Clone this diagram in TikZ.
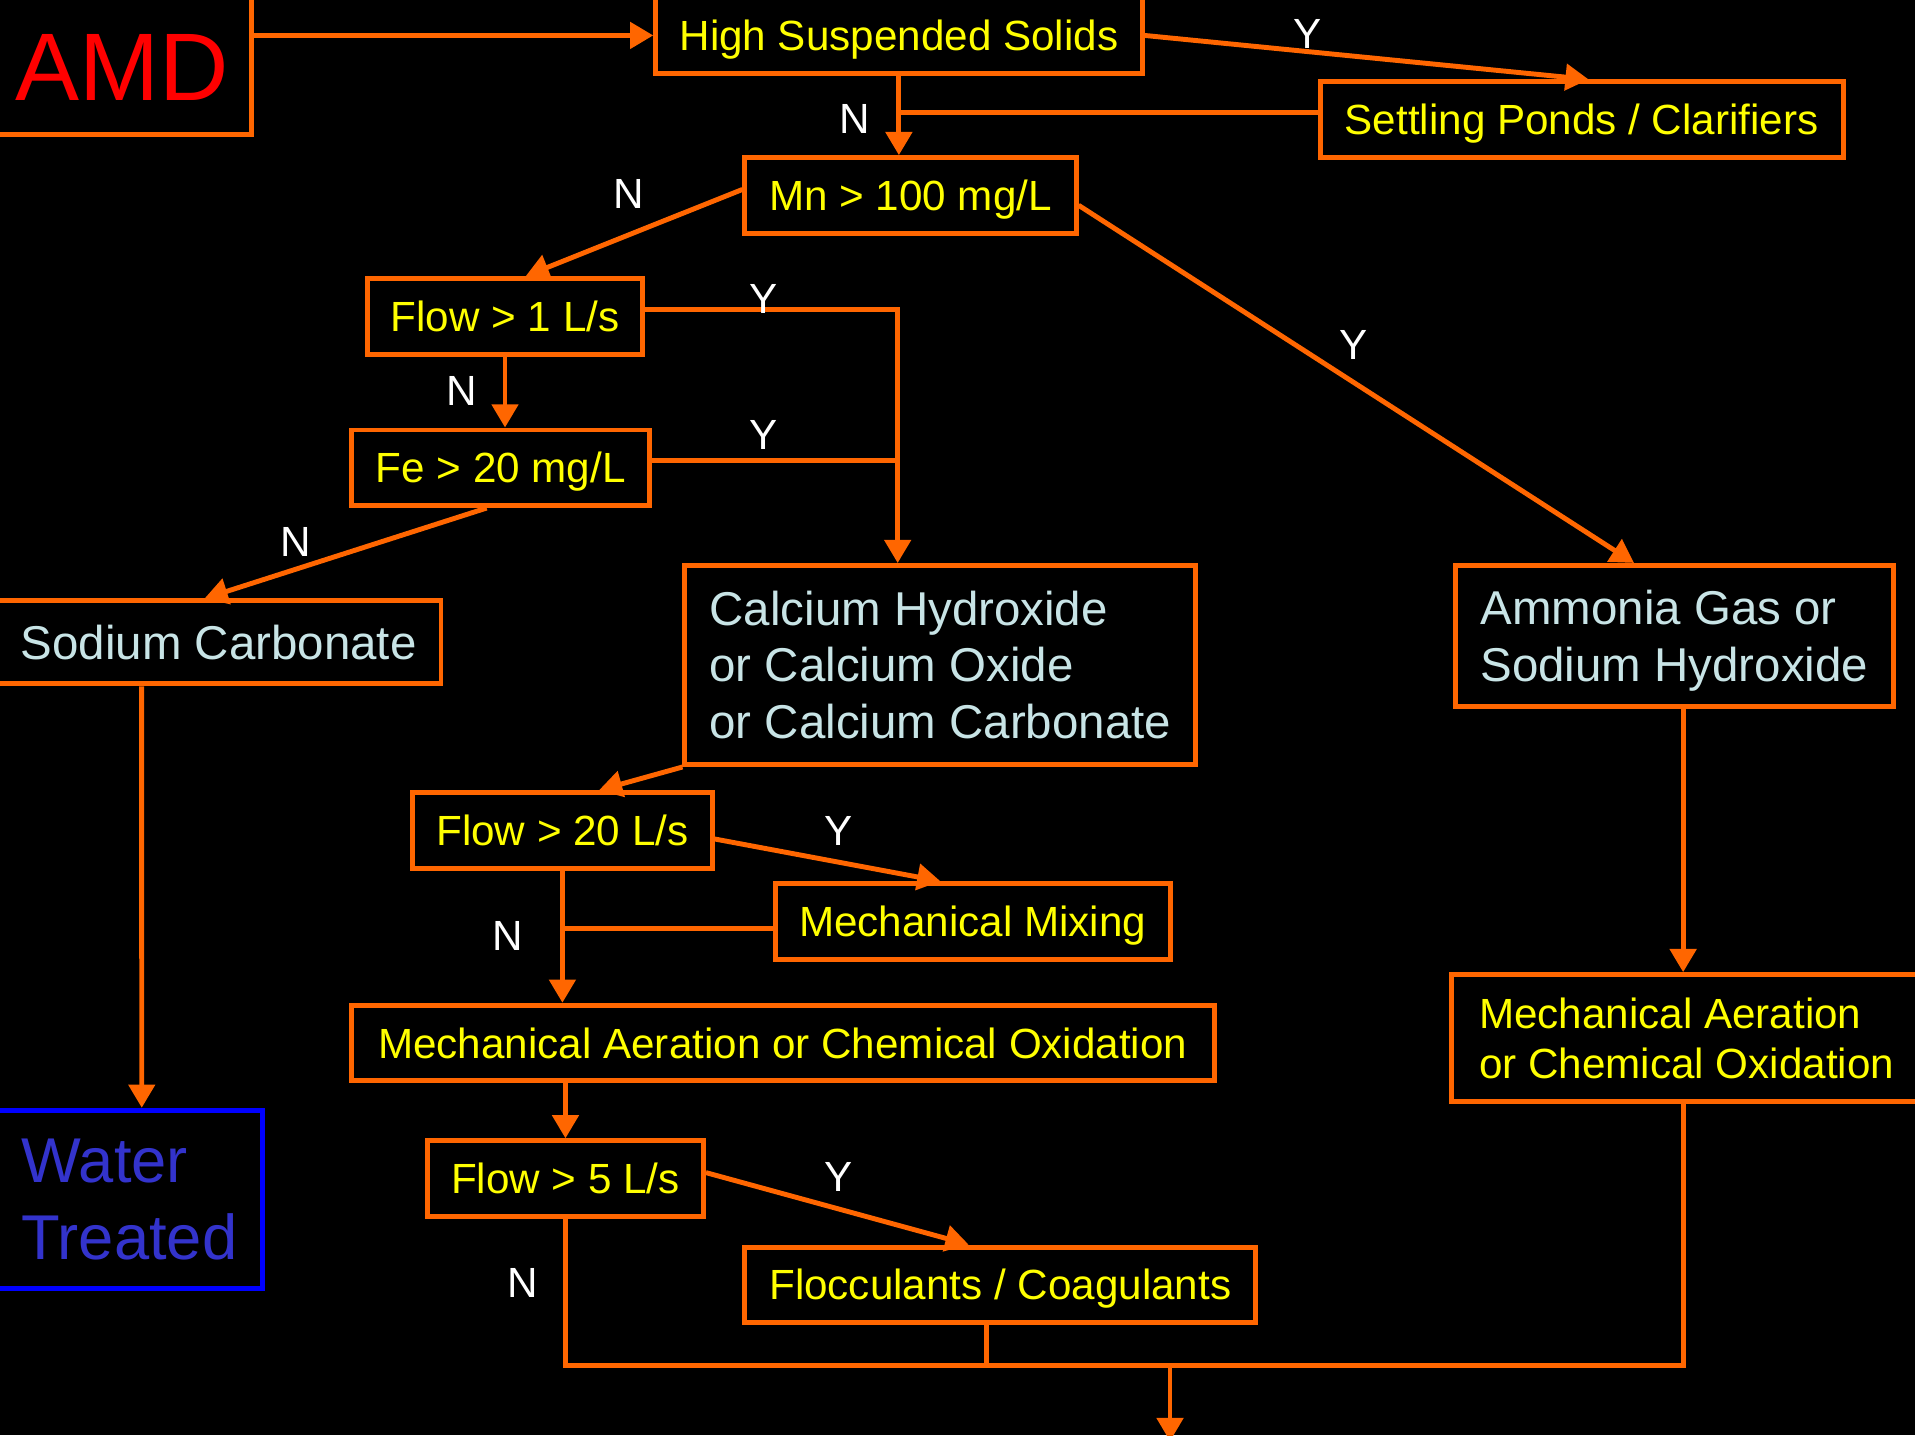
\documentclass[tikz,border=0pt]{standalone}
\usepackage{fontspec}
\setmainfont{Liberation Sans}
\usetikzlibrary{arrows.meta,calc}
\definecolor{amdorange}{RGB}{255,102,0}
\definecolor{amdyellow}{RGB}{255,255,0}
\definecolor{amdcyan}{RGB}{200,228,230}
\definecolor{amdred}{RGB}{255,0,0}
\definecolor{amdblue}{RGB}{0,0,255}
\definecolor{amdwater}{RGB}{51,51,204}

\tikzset{
  stepbox/.style={draw=amdorange, line width=1.4pt, inner sep=0pt, text=amdyellow, font=\fontsize{12}{14.2}\selectfont},
  onerow/.style={text height=8.6pt, text depth=0pt, minimum height=21.5pt},
  dosebox/.style={stepbox, text=amdcyan, font=\fontsize{13.5}{16.2}\selectfont, align=left},
  yn/.style={text=white, font=\fontsize{12}{14}\selectfont, text height=8.6pt, text depth=0pt, inner sep=0pt},
  flow/.style={draw=amdorange, line width=1.4pt},
  flowarrow/.style={flow, -{Triangle[width=7.4pt,length=6.6pt]}},
}

\begin{document}
\begin{tikzpicture}[x=0.012213cm, y=-0.012213cm]
  \path[fill=black, use as bounding box] (0,0) rectangle (1568,1175);

  % boxes
  \node[stepbox, text=amdred, font=\fontsize{27.3}{32}\selectfont, anchor=south east, text width=76pt, align=right, inner xsep=6.5pt, text height=28pt, text depth=0pt, minimum height=47pt] (amd) at (208,112) {AMD};
  \node[stepbox, onerow, minimum width=138.3pt] (hss) at (736,29) {High Suspended Solids};
  \node[stepbox, onerow, minimum width=148.7pt] (settle) at (1295,98) {Settling Ponds / Clarifiers};
  \node[stepbox, onerow, minimum width=94.2pt] (mn) at (745.5,160) {Mn > 100 mg/L};
  \node[stepbox, onerow, minimum width=78.2pt] (flowa) at (413.5,259) {Flow > 1 L/s};
  \node[stepbox, onerow, minimum width=84.8pt] (fe) at (410,383) {Fe > 20 mg/L};
  \node[dosebox, onerow, text height=9.7pt, minimum width=126.5pt, minimum height=23.6pt] (soda) at (179,526) {Sodium Carbonate};
  \node[dosebox, minimum width=145.3pt, minimum height=56.6pt] (lime) at (770,544.5) {Calcium Hydroxide\\or Calcium Oxide\\or Calcium Carbonate};
  \node[dosebox, text depth=0pt, minimum width=124.4pt, minimum height=40pt] (ammonia) at (1371,520.5) {Ammonia Gas or\\Sodium Hydroxide};
  \node[stepbox, onerow, minimum width=85.1pt] (flowb) at (460.5,680) {Flow > 20 L/s};
  \node[stepbox, onerow, minimum width=112.2pt] (mix) at (796.5,754.5) {Mechanical Mixing};
  \node[stepbox, onerow, minimum width=245.3pt] (aera) at (641,854) {Mechanical Aeration or Chemical Oxidation};
  \node[stepbox, onerow, minimum width=78.5pt] (flowc) at (463,965) {Flow > 5 L/s};
  \node[stepbox, onerow, minimum width=145.3pt] (flocc) at (819,1052) {Flocculants / Coagulants};
  \node[stepbox, align=left, minimum width=133.5pt, minimum height=36.1pt] (aerb) at (1381,850) {Mechanical Aeration\\or Chemical Oxidation};
  \node[stepbox, draw=amdblue, text=amdwater, align=left, font=\fontsize{18}{21.9}\selectfont, minimum width=75.8pt, minimum height=50.7pt] (water) at (106,982) {Water\\Treated};

  \coordinate (limein) at ($(lime.north)+(-35,0)$);
  \coordinate (sink) at (958,1118);
  \coordinate (outlet) at (958,1180);

  % connectors
  \draw[flowarrow] (amd.east |- hss.west) -- (hss.west);
  \draw[flowarrow] (hss.east) -- ([xshift=2pt]settle.north);
  \draw[flow] ([yshift=2pt]settle.west) -- ([yshift=2pt]settle.west -| hss.south);
  \draw[flowarrow] (hss.south) -- (hss.south |- mn.north);
  \draw[flowarrow] ([yshift=1.7pt]mn.west) -- ([xshift=5.9pt]flowa.north);
  \draw[flowarrow] ([yshift=-2.8pt]mn.east) -- ([xshift=-11.5pt]ammonia.north);
  \draw[flowarrow] (flowa.south) -- (flowa.south |- fe.north);
  \draw[flowarrow] ([yshift=2pt]flowa.east) -| (limein);
  \draw[flow] ([yshift=2pt]fe.east) -- ([yshift=2pt]fe.east -| limein);
  \draw[flowarrow] ([xshift=-4pt]fe.south) -- ([xshift=-4pt]soda.north);
  \draw[flowarrow] ([xshift=-21.9pt]soda.south) -- ([xshift=3.5pt]water.north);
  \draw[flowarrow] (lime.south west) -- ([xshift=10.4pt]flowb.north);
  \draw[flowarrow] ([yshift=-2.4pt]flowb.east) -- ([xshift=-9.2pt]mix.north);
  \draw[flow] ([yshift=-1.9pt]mix.west) -- ([yshift=-1.9pt]mix.west -| flowb.south);
  \draw[flowarrow] (flowb.south) -- (flowb.south |- aera.north);
  \draw[flowarrow] (flowc.north |- aera.south) -- (flowc.north);
  \draw[flowarrow] ([yshift=1.7pt]flowc.east) -- ([xshift=-9pt]flocc.north);
  \draw[flow] (flowc.south) |- (sink) -| ([xshift=-1pt]aerb.south);
  \draw[flow] ([xshift=-3.8pt]flocc.south) -- ([xshift=-3.8pt]flocc.south |- sink);
  \draw[flowarrow] ([xshift=-1pt]ammonia.south -| aerb.north) -- ([xshift=-1pt]aerb.north);
  \draw[flowarrow] (sink) -- (outlet);

  % Y / N labels
  \node[yn] (hssy) at (1071,27) {Y};
  \node[yn] (hssn) at (700,97) {N};
  \node[yn] (mnn) at (515,158) {N};
  \node[yn] (mny) at (1108,282) {Y};
  \node[yn] (floway) at (625,244) {Y};
  \node[yn] (flowan) at (378,320) {N};
  \node[yn] (fey) at (625,356) {Y};
  \node[yn] (fen) at (242,443) {N};
  \node[yn] (flowby) at (687,680) {Y};
  \node[yn] (flowbn) at (416,766) {N};
  \node[yn] (flowcy) at (687,963) {Y};
  \node[yn] (flowcn) at (428,1050) {N};
\end{tikzpicture}
\end{document}
